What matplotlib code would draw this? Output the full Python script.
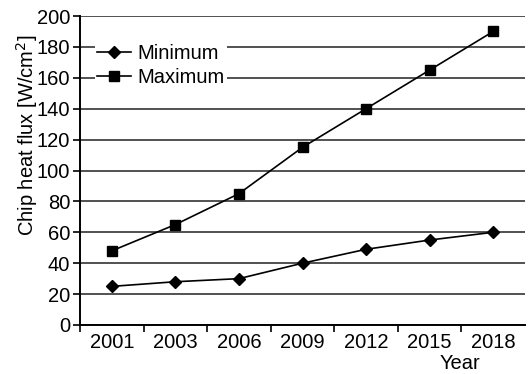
import matplotlib
matplotlib.use("Agg")
import matplotlib.pyplot as plt

plt.rcParams['font.family'] = ['Liberation Sans', 'DejaVu Sans']

# data
years = ['2001', '2003', '2006', '2009', '2012', '2015', '2018']
minimo = [25, 28, 30, 40, 49, 55, 60]
maximo = [48, 65, 85, 115, 140, 165, 190]
y_ticks = [0, 20, 40, 60, 80, 100, 120, 140, 160, 180, 200]

fs = 14.5

fig = plt.figure(figsize=(5.29, 3.74), dpi=100)
ax = fig.add_axes([80/529, 49/374, 445/529, 309/374])

pos = list(range(len(years)))
ax.plot(pos, minimo, color='black', lw=1.2, marker='D', ms=6.5, label='Minimum')
ax.plot(pos, maximo, color='black', lw=1.2, marker='s', ms=7.5, label='Maximum')

ax.set_xlim(-0.5, len(years) - 0.5)
ax.set_ylim(0, 200)
ax.set_yticks(y_ticks)
ax.set_xticks([p - 0.5 for p in pos])
ax.set_xticklabels([])
ax.set_xticks(pos, minor=True)
ax.set_xticklabels(years, minor=True)
ax.tick_params(axis='x', which='minor', length=0, labelsize=fs, pad=6)
ax.tick_params(axis='x', which='major', length=5, width=1.2, direction='out')
ax.tick_params(axis='y', length=5, width=1.2, direction='out', labelsize=fs, pad=2)

ax.yaxis.grid(True, color='#333333', lw=1.2)
ax.set_axisbelow(True)
for s in ['top', 'right']:
    ax.spines[s].set_visible(False)
ax.spines['left'].set_linewidth(1.4)
ax.spines['bottom'].set_linewidth(1.4)

ax.set_ylabel('Chip heat flux [W/cm$^2$]', fontsize=fs)
ax.yaxis.set_label_coords(-0.09, 0.615)
ax.set_xlabel('Year', fontsize=fs)
ax.xaxis.set_label_coords(0.854, -0.093)

leg = ax.legend(loc='upper left', bbox_to_anchor=(0.034, 0.915), frameon=True,
                fontsize=fs, handlelength=1.7, handletextpad=0.3,
                borderpad=0.1, labelspacing=0.25, borderaxespad=0)
leg.get_frame().set_facecolor('white')
leg.get_frame().set_edgecolor('none')
leg.get_frame().set_alpha(1)

fig.savefig('out.png', dpi=100)
